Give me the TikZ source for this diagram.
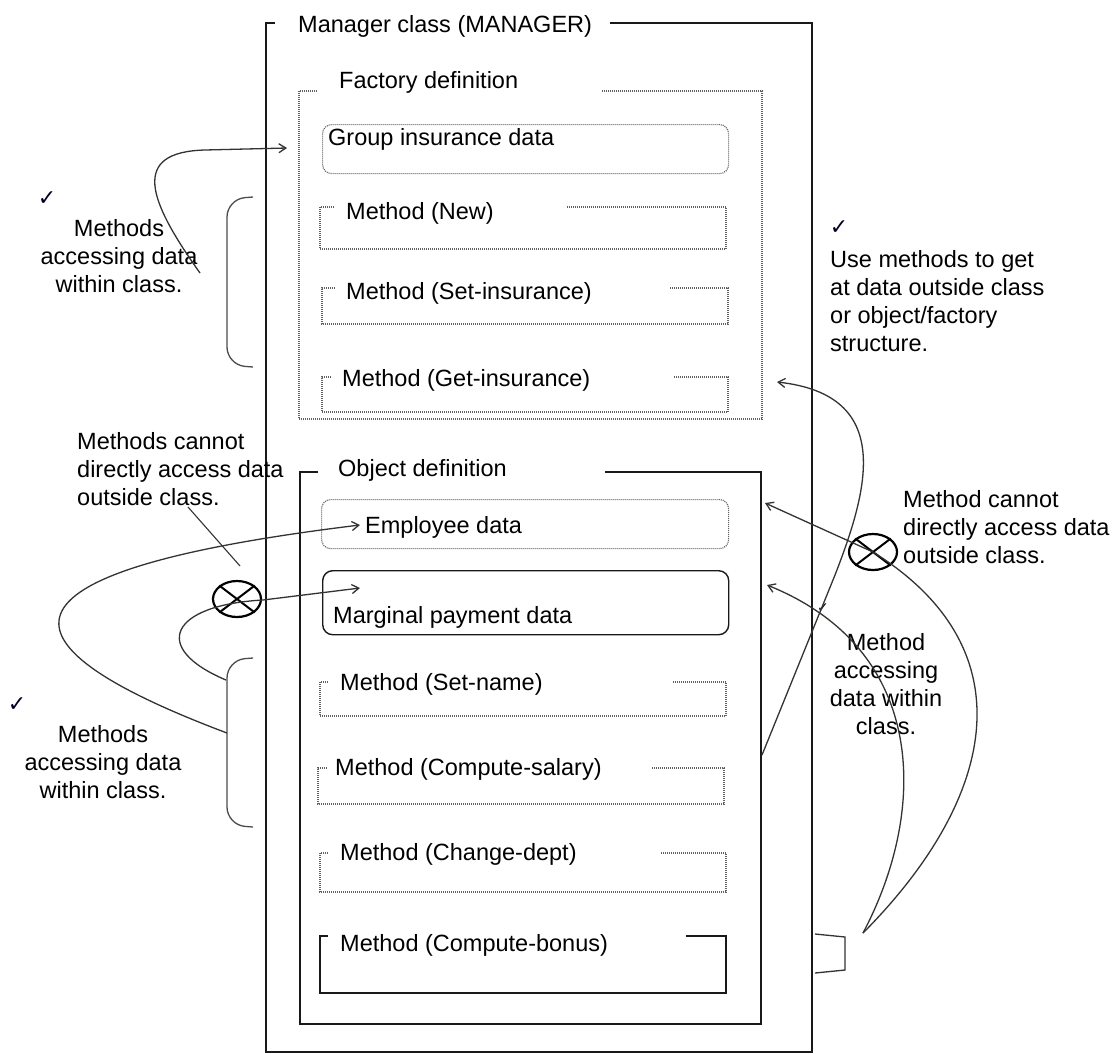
\documentclass[tikz,border=0pt]{standalone}
\usepackage{fontspec}
\setmainfont{Liberation Sans}
\newfontfamily\symfont{DejaVu Sans}
\usetikzlibrary{arrows.meta,shapes.geometric}
\newcommand\annfont{\fontsize{23.5}{28}\selectfont}
\newcommand\tickfont{\symfont\fontsize{22}{22}\selectfont}
\newcommand\smalltickfont{\symfont\fontsize{14}{14}\selectfont}
\begin{document}
\begin{tikzpicture}[x=1pt,y=-1pt,
  solidbox/.style={draw=black!90, line width=1.7pt},
  solidthin/.style={draw=black!90, line width=1.4pt},
  dotbox/.style={draw=black!62, line width=1.2pt, dash pattern=on 1pt off 1pt},
  txt/.style={font=\annfont, inner sep=0pt, text=black},
  note/.style={font=\annfont, inner sep=0pt, text=black},
  tick/.style={font=\tickfont, inner sep=0pt, text=black!85!blue},
  link/.style={draw=black!80, line width=1.3pt},
  arr/.style={link, -{Straight Barb[length=7pt,width=9pt]}},
  xmark/.style={draw=black, ellipse, line width=2.2pt, minimum width=48pt, minimum height=36pt, inner sep=0pt},
  bracket/.style={draw=black!70, line width=1.3pt, rounded corners=18pt}
]
\useasboundingbox (0,0) rectangle (1115,1053);
\fill[white] (0,0) rectangle (1115,1053);

% ---------- Manager class ----------
\draw[solidbox] (275,23) -- (266,23) -- (266,1052) -- (812,1052) -- (812,23) -- (610,23);
\node[txt, anchor=base west] (mgrT) at (298,32) {Manager class (MANAGER)};

% ---------- Factory definition ----------
\draw[dotbox] (317,91) -- (299,91) -- (299,419) -- (762,419) -- (762,91) -- (601,91);
\node[txt, anchor=base west] (facT) at (339,88) {Factory definition};

\node[dotbox, rounded corners=9pt, minimum width=406pt, minimum height=49pt, anchor=north west, inner sep=0pt] (grp) at (322,124) {};
\node[txt, anchor=base west] (grpT) at (328,145) {Group insurance data};

\draw[dotbox] (334,207) -- (320,207) -- (320,249) -- (726,249) -- (726,207) -- (566,207);
\node[txt, anchor=base west] (mNew) at (346,219) {Method (New)};

\draw[dotbox] (335,288) -- (322,288) -- (322,324) -- (728,324) -- (728,288) -- (670,288);
\node[txt, anchor=base west] (mSetI) at (346,299) {Method (Set-insurance)};

\draw[dotbox] (331,377) -- (322,377) -- (322,412) -- (728,412) -- (728,377) -- (673,377);
\node[txt, anchor=base west] (mGetI) at (342,386) {Method (Get-insurance)};

% ---------- Object definition ----------
\draw[solidbox] (318,472) -- (300,472) -- (300,1024) -- (761,1024) -- (761,472) -- (605,472);
\node[txt, anchor=base west] (objT) at (338,476) {Object definition};

\node[dotbox, rounded corners=9pt, minimum width=407pt, minimum height=49pt, anchor=north west, inner sep=0pt] (emp) at (321,499) {};
\node[txt, anchor=base west] (empT) at (365,533) {Employee data};

\node[solidthin, rounded corners=10pt, minimum width=406pt, minimum height=64pt, anchor=north west, inner sep=0pt] (mar) at (322,570) {};
\node[txt, anchor=base west] (marT) at (333,623) {Marginal payment data};

\draw[dotbox] (328,682) -- (320,682) -- (320,716) -- (726,716) -- (726,682) -- (672,682);
\node[txt, anchor=base west] (mSetN) at (340,690) {Method (Set-name)};

\draw[dotbox] (327,768) -- (318,768) -- (318,804) -- (724,804) -- (724,768) -- (652,768);
\node[txt, anchor=base west] (mSal) at (335,775) {Method (Compute-salary)};

\draw[dotbox] (328,853) -- (320,853) -- (320,892) -- (726,892) -- (726,853) -- (660,853);
\node[txt, anchor=base west] (mDept) at (340,860) {Method (Change-dept)};

\draw[solidthin] (328,936) -- (320,936) -- (320,993) -- (726,993) -- (726,936) -- (686,936);
\node[txt, anchor=base west] (mBon) at (340,951) {Method (Compute-bonus)};

% ---------- left annotations ----------
\node[tick] (ck1) at (47,199) {✓};
\node[note, anchor=north, align=center] (n1) at (119,219) {Methods\\accessing data\\within class.};
\draw[bracket] (253,197) -- (227,199) -- (227,365) -- (253,367);

\node[note, anchor=north west, align=left] (n2) at (77,432) {Methods cannot\\directly access data\\outside class.};
\node[xmark] (xL) at (237,599) {};
\draw[black, line width=2pt] (xL.north west) -- (xL.south east) (xL.north east) -- (xL.south west);

\node[tick] (ck2) at (17,705) {✓};
\node[note, anchor=north, align=center] (n3) at (103,725) {Methods\\accessing data\\within class.};
\draw[bracket] (253,658) -- (227,660) -- (227,825) -- (253,827);

% ---------- right annotations ----------
\node[tick] (ck3) at (839,228) {✓};
\node[note, anchor=north west, align=left] (n4) at (830,250) {Use methods to get\\at data outside class\\or object/factory\\structure.};

\node[note, anchor=north west, align=left] (n5) at (903,490) {Method cannot\\directly access data\\outside class.};
\node[xmark] (xR) at (873,552) {};
\draw[black, line width=2pt] (xR.north west) -- (xR.south east) (xR.north east) -- (xR.south west);

\node[tick, font=\smalltickfont] (ck4) at (823,608) {✓};
\node[note, anchor=north, align=center] (n6) at (886,633) {Method\\accessing\\data within\\class.};

\draw[link] (815,934) -- (845,937) -- (845,970) -- (815,973);

% ---------- connectors ----------
\coordinate (s1) at (200,273);
\coordinate (tGrp) at (287,148);
\draw[arr] (s1) .. controls (148,200) and (130,152) .. (205,150) -- (tGrp);

\coordinate (p1) at (188,507);
\coordinate (p2) at (240,566);
\draw[link, line width=1.1pt] (p1) -- (p2);

\coordinate (bA) at (227,733);
\coordinate (tEmp) at (360,525);
\draw[arr] (bA) .. controls (-20,640) and (-10,570) .. (tEmp);

\coordinate (bB) at (226,680);
\coordinate (tMar) at (360,588);
\draw[arr] (bB) .. controls (150,648) and (170,605) .. (263,600) -- (tMar);

\coordinate (rJ) at (863,933);
\coordinate (tEmpR) at (765,503);
\draw[arr] (rJ) .. controls (995,800) and (1030,650) .. (xR.center) -- (tEmpR);

\coordinate (tMarR) at (767,585);
\draw[arr] (rJ) .. controls (928,810) and (928,650) .. (tMarR);

\coordinate (sSal) at (762,755);
\coordinate (tFac) at (777,382);
\draw[arr] (sSal) -- (835,575) .. controls (868,490) and (895,395) .. (tFac);
\end{tikzpicture}
\end{document}
